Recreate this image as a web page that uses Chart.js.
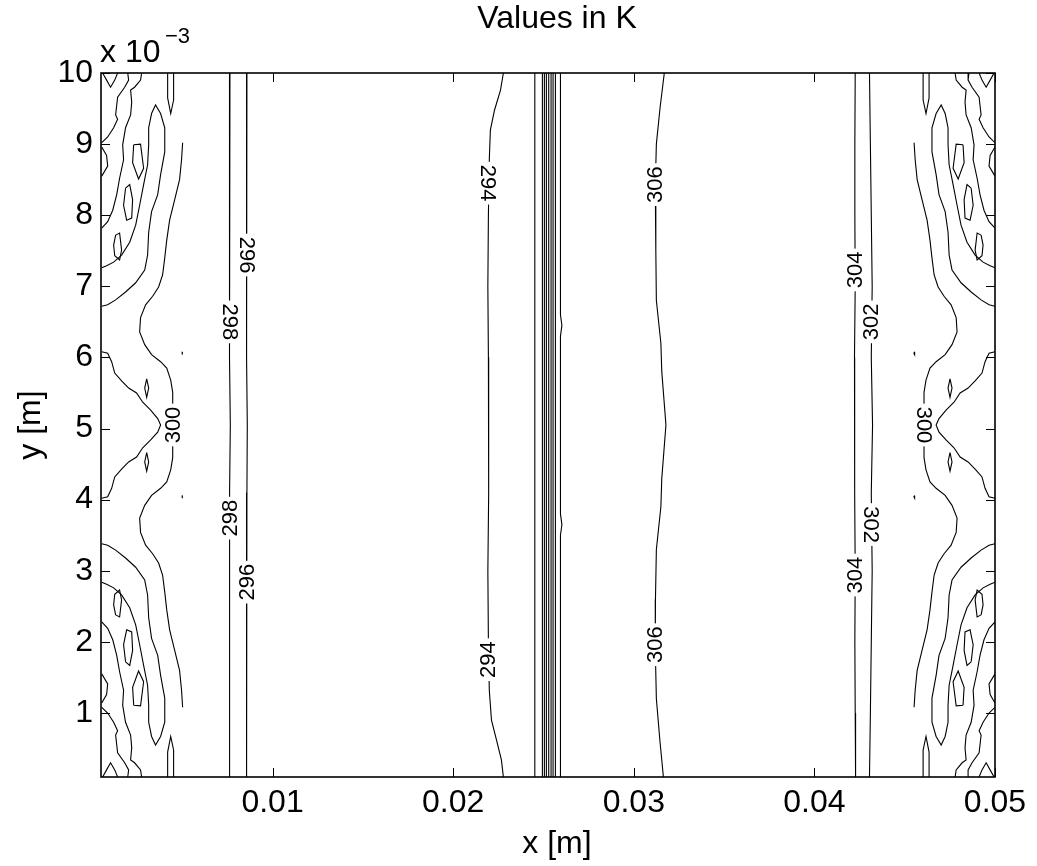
<!DOCTYPE html>
<html lang="en">
<head>
<meta charset="UTF-8">
<title>Values in K</title>
<script src="https://cdn.jsdelivr.net/npm/chart.js"></script>
<style>
  body { margin: 0; background: #fff; }
</style>
</head>
<body>
<canvas id="myChart" width="1037" height="866"></canvas>
<script>
// x in mm (shown as metres), y in units of 1e-3 m
const xTicks = [10, 20, 30, 40, 50];
const xTickLabels = ['0.01', '0.02', '0.03', '0.04', '0.05'];
const yTicks = [1, 2, 3, 4, 5, 6, 7, 8, 9, 10];
const yTickLabels = ['1', '2', '3', '4', '5', '6', '7', '8', '9', '10'];

// main contour lines [x, y]
const line298 = [[7.64,10.0],[7.62,9.0],[7.60,8.0],[7.62,7.2],[7.62,6.0],[7.66,5.05],[7.62,4.1],[7.62,3.0],[7.60,2.0],[7.62,1.0],[7.64,0.1]];
const line296 = [[8.58,10.0],[8.56,9.0],[8.54,8.0],[8.56,7.0],[8.58,6.0],[8.60,5.05],[8.58,4.1],[8.56,3.1],[8.54,2.0],[8.56,1.0],[8.58,0.1]];
const line294 = [[22.78,10.0],[22.62,9.76],[22.29,9.48],[22.06,9.20],[22.00,8.78],[21.95,8.0],[21.92,7.0],[21.95,6.0],[21.98,5.05],[21.95,4.1],[21.92,3.0],[21.95,2.0],[22.00,1.32],[22.12,0.90],[22.40,0.62],[22.67,0.34],[22.78,0.1]];
const front1 = [[24.52,10.0],[24.52,0.1]];
const front2 = [[24.94,10.0],[24.94,0.1]];
const front3 = [[25.05,10.0],[25.05,0.1]];
const front4 = [[25.16,10.0],[25.16,0.1]];
const front5 = [[25.29,10.0],[25.29,0.1]];
const front6 = [[25.42,10.0],[25.42,0.1]];
const front7 = [[25.53,10.0],[25.53,0.1]];
const front8 = [[25.66,10.0],[25.66,0.1]];
const front9 = [[25.94,10.0],[25.94,6.6],[26.02,6.45],[25.94,6.3],[25.94,3.8],[26.02,3.65],[25.94,3.5],[25.94,0.1]];
const line306 = [[31.69,10.0],[31.45,9.5],[31.25,9.0],[31.19,8.4],[31.22,7.5],[31.25,6.8],[31.50,6.2],[31.55,5.8],[31.78,5.05],[31.55,4.3],[31.50,3.9],[31.25,3.3],[31.20,2.6],[31.19,1.9],[31.25,1.2],[31.45,0.6],[31.64,0.1]];
const line304 = [[42.26,10.0],[42.24,9.0],[42.24,8.0],[42.26,7.0],[42.22,6.0],[42.24,5.05],[42.22,4.1],[42.26,3.0],[42.24,2.0],[42.26,1.0],[42.28,0.1]];
const line302 = [[43.05,10.0],[43.10,9.0],[43.15,8.0],[43.20,7.0],[43.15,6.0],[43.22,5.05],[43.15,4.1],[43.20,3.0],[43.15,2.0],[43.10,1.0],[43.05,0.1]];

// ragged contours near the left wall
const leftTop = [
  [[0.59,10.0],[0.81,9.90],[1.03,9.80],[1.26,9.90],[1.42,10.0]],
  [[1.98,10.0],[2.03,9.90],[1.81,9.80],[1.42,9.66],[1.31,9.41],[1.42,9.35],[1.20,9.23],[0.87,9.10],[0.54,9.02]],
  [[0.54,8.96],[0.81,8.84],[0.87,8.69],[0.54,8.55]],
  [[2.75,10.0],[2.69,9.90],[2.36,9.80],[2.14,9.76],[2.20,9.59],[2.14,9.41],[1.86,9.23],[1.70,8.99],[1.75,8.78],[1.53,8.52],[1.37,8.29],[1.15,8.07],[0.87,7.91],[0.54,7.82]],
  [[4.19,10.0],[4.19,9.65],[4.36,9.43],[4.52,9.62],[4.52,10.0]],
  [[2.31,8.99],[2.69,9.00],[2.86,8.66],[2.58,8.51],[2.25,8.74],[2.31,8.99]],
  [[1.86,8.38],[2.09,8.43],[2.25,8.22],[2.20,7.96],[1.92,7.93],[1.75,8.14],[1.86,8.38]],
  [[1.31,7.72],[1.53,7.75],[1.64,7.51],[1.53,7.37],[1.26,7.43],[1.20,7.58],[1.31,7.72]],
  [[0.54,7.26],[0.81,7.29],[1.20,7.34],[1.64,7.44],[2.09,7.62],[2.42,7.86],[2.64,8.14],[2.86,8.43],[3.08,8.71],[3.14,8.99],[3.14,9.23],[3.30,9.43],[3.52,9.55],[3.80,9.43],[4.03,9.23],[4.03,8.89],[3.80,8.57],[3.64,8.29],[3.30,8.05],[3.14,7.76],[3.08,7.44],[2.92,7.23],[2.42,7.05],[1.86,6.92],[1.31,6.81],[0.87,6.74],[0.54,6.72]]
];
const leftBottom = [
  [[0.59,0.1],[0.81,0.20],[1.03,0.30],[1.26,0.20],[1.42,0.1]],
  [[1.98,0.1],[2.03,0.20],[1.81,0.30],[1.42,0.44],[1.31,0.69],[1.42,0.75],[1.20,0.87],[0.87,1.00],[0.54,1.08]],
  [[0.54,1.14],[0.81,1.26],[0.87,1.41],[0.54,1.55]],
  [[2.75,0.1],[2.69,0.20],[2.36,0.30],[2.14,0.34],[2.20,0.51],[2.14,0.69],[1.86,0.87],[1.70,1.11],[1.75,1.32],[1.53,1.58],[1.37,1.81],[1.15,2.03],[0.87,2.19],[0.54,2.28]],
  [[4.19,0.1],[4.19,0.45],[4.36,0.67],[4.52,0.48],[4.52,0.1]],
  [[2.31,1.11],[2.69,1.10],[2.86,1.44],[2.58,1.59],[2.25,1.36],[2.31,1.11]],
  [[1.86,1.72],[2.09,1.67],[2.25,1.88],[2.20,2.14],[1.92,2.17],[1.75,1.96],[1.86,1.72]],
  [[1.31,2.38],[1.53,2.35],[1.64,2.59],[1.53,2.73],[1.26,2.67],[1.20,2.52],[1.31,2.38]],
  [[0.54,2.84],[0.81,2.81],[1.20,2.76],[1.64,2.66],[2.09,2.48],[2.42,2.24],[2.64,1.96],[2.86,1.67],[3.08,1.39],[3.14,1.11],[3.14,0.87],[3.30,0.67],[3.52,0.55],[3.80,0.67],[4.03,0.87],[4.03,1.21],[3.80,1.53],[3.64,1.81],[3.30,2.05],[3.14,2.34],[3.08,2.66],[2.92,2.87],[2.42,3.05],[1.86,3.18],[1.31,3.29],[0.87,3.36],[0.54,3.38]]
];
const leftMiddle = [
  [[5.02,9.02],[4.96,8.78],[4.85,8.50],[4.58,8.22],[4.30,7.93],[4.14,7.65],[4.03,7.40],[3.91,7.16],[3.69,6.99],[3.36,6.86],[2.97,6.74],[2.69,6.56],[2.64,6.36],[2.92,6.18],[3.30,6.04],[3.80,5.94],[4.14,5.85],[4.36,5.68],[4.47,5.51],[4.47,5.30],[4.47,5.05],[4.47,4.80],[4.47,4.59],[4.36,4.42],[4.14,4.25],[3.80,4.16],[3.30,4.06],[2.92,3.92],[2.64,3.74],[2.69,3.54],[2.97,3.36],[3.36,3.24],[3.69,3.11],[3.91,2.94],[4.03,2.70],[4.14,2.45],[4.30,2.17],[4.58,1.88],[4.85,1.60],[4.96,1.32],[5.02,1.08]],
  [[0.54,6.08],[0.87,6.06],[1.09,5.94],[1.26,5.78],[1.64,5.67],[2.03,5.57],[2.47,5.50],[2.81,5.37],[3.25,5.26],[3.64,5.14],[3.80,5.05],[3.64,4.95],[3.25,4.84],[2.81,4.73],[2.47,4.60],[2.03,4.53],[1.64,4.43],[1.26,4.32],[1.09,4.16],[0.87,4.04],[0.54,4.02]],
  [[3.03,5.70],[3.14,5.57],[3.03,5.44],[2.92,5.57],[3.03,5.70]],
  [[3.03,4.66],[3.14,4.53],[3.03,4.40],[2.92,4.53],[3.03,4.66]],
  [[4.99,6.08],[5.03,6.06],[4.99,6.04],[4.99,6.08]],
  [[4.99,4.06],[5.03,4.04],[4.99,4.02],[4.99,4.06]]
];

// ragged contours near the right wall
const rightTop = [
  [[49.95,10.0],[49.73,9.90],[49.51,9.80],[49.28,9.90],[49.12,10.0]],
  [[48.56,10.0],[48.51,9.90],[48.73,9.80],[49.12,9.66],[49.23,9.41],[49.12,9.35],[49.34,9.23],[49.67,9.10],[50.00,9.02]],
  [[50.00,8.96],[49.73,8.84],[49.67,8.69],[50.00,8.55]],
  [[47.79,10.0],[47.85,9.90],[48.18,9.80],[48.40,9.76],[48.34,9.59],[48.40,9.41],[48.68,9.23],[48.84,8.99],[48.79,8.78],[49.01,8.52],[49.17,8.29],[49.39,8.07],[49.67,7.91],[50.00,7.82]],
  [[46.35,10.0],[46.35,9.65],[46.18,9.43],[46.02,9.62],[46.02,10.0]],
  [[48.23,8.99],[47.85,9.00],[47.68,8.66],[47.96,8.51],[48.29,8.74],[48.23,8.99]],
  [[48.68,8.38],[48.45,8.43],[48.29,8.22],[48.34,7.96],[48.62,7.93],[48.79,8.14],[48.68,8.38]],
  [[49.23,7.72],[49.01,7.75],[48.90,7.51],[49.01,7.37],[49.28,7.43],[49.34,7.58],[49.23,7.72]],
  [[50.00,7.26],[49.73,7.29],[49.34,7.34],[48.90,7.44],[48.45,7.62],[48.12,7.86],[47.90,8.14],[47.68,8.43],[47.46,8.71],[47.40,8.99],[47.40,9.23],[47.24,9.43],[47.02,9.55],[46.74,9.43],[46.51,9.23],[46.51,8.89],[46.74,8.57],[46.90,8.29],[47.24,8.05],[47.40,7.76],[47.46,7.44],[47.62,7.23],[48.12,7.05],[48.68,6.92],[49.23,6.81],[49.67,6.74],[50.00,6.72]]
];
const rightBottom = [
  [[49.95,0.1],[49.73,0.20],[49.51,0.30],[49.28,0.20],[49.12,0.1]],
  [[48.56,0.1],[48.51,0.20],[48.73,0.30],[49.12,0.44],[49.23,0.69],[49.12,0.75],[49.34,0.87],[49.67,1.00],[50.00,1.08]],
  [[50.00,1.14],[49.73,1.26],[49.67,1.41],[50.00,1.55]],
  [[47.79,0.1],[47.85,0.20],[48.18,0.30],[48.40,0.34],[48.34,0.51],[48.40,0.69],[48.68,0.87],[48.84,1.11],[48.79,1.32],[49.01,1.58],[49.17,1.81],[49.39,2.03],[49.67,2.19],[50.00,2.28]],
  [[46.35,0.1],[46.35,0.45],[46.18,0.67],[46.02,0.48],[46.02,0.1]],
  [[48.23,1.11],[47.85,1.10],[47.68,1.44],[47.96,1.59],[48.29,1.36],[48.23,1.11]],
  [[48.68,1.72],[48.45,1.67],[48.29,1.88],[48.34,2.14],[48.62,2.17],[48.79,1.96],[48.68,1.72]],
  [[49.23,2.38],[49.01,2.35],[48.90,2.59],[49.01,2.73],[49.28,2.67],[49.34,2.52],[49.23,2.38]],
  [[50.00,2.84],[49.73,2.81],[49.34,2.76],[48.90,2.66],[48.45,2.48],[48.12,2.24],[47.90,1.96],[47.68,1.67],[47.46,1.39],[47.40,1.11],[47.40,0.87],[47.24,0.67],[47.02,0.55],[46.74,0.67],[46.51,0.87],[46.51,1.21],[46.74,1.53],[46.90,1.81],[47.24,2.05],[47.40,2.34],[47.46,2.66],[47.62,2.87],[48.12,3.05],[48.68,3.18],[49.23,3.29],[49.67,3.36],[50.00,3.38]]
];
const rightMiddle = [
  [[45.52,9.02],[45.58,8.78],[45.69,8.50],[45.96,8.22],[46.24,7.93],[46.40,7.65],[46.51,7.40],[46.63,7.16],[46.85,6.99],[47.18,6.86],[47.57,6.74],[47.85,6.56],[47.90,6.36],[47.62,6.18],[47.24,6.04],[46.74,5.94],[46.40,5.85],[46.18,5.68],[46.07,5.51],[46.07,5.30],[46.07,5.05],[46.07,4.80],[46.07,4.59],[46.18,4.42],[46.40,4.25],[46.74,4.16],[47.24,4.06],[47.62,3.92],[47.90,3.74],[47.85,3.54],[47.57,3.36],[47.18,3.24],[46.85,3.11],[46.63,2.94],[46.51,2.70],[46.40,2.45],[46.24,2.17],[45.96,1.88],[45.69,1.60],[45.58,1.32],[45.52,1.08]],
  [[50.00,6.08],[49.67,6.06],[49.45,5.94],[49.28,5.78],[48.90,5.67],[48.51,5.57],[48.07,5.50],[47.73,5.37],[47.29,5.26],[46.90,5.14],[46.74,5.05],[46.90,4.95],[47.29,4.84],[47.73,4.73],[48.07,4.60],[48.51,4.53],[48.90,4.43],[49.28,4.32],[49.45,4.16],[49.67,4.04],[50.00,4.02]],
  [[47.51,5.70],[47.40,5.57],[47.51,5.44],[47.62,5.57],[47.51,5.70]],
  [[47.51,4.66],[47.40,4.53],[47.51,4.40],[47.62,4.53],[47.51,4.66]],
  [[45.55,6.08],[45.51,6.06],[45.55,6.04],[45.55,6.08]],
  [[45.55,4.06],[45.51,4.04],[45.55,4.02],[45.55,4.06]]
];

// inline contour labels: text, x, y, reading direction (1 = top to bottom, -1 = bottom to top)
const levelLabels = [
  ['296', 8.56, 7.44, 1], ['296', 8.56, 2.84, -1],
  ['298', 7.62, 6.50, 1], ['298', 7.62, 3.74, -1],
  ['294', 21.95, 8.45, 1], ['294', 21.95, 1.75, -1],
  ['306', 31.19, 8.43, -1], ['306', 31.19, 1.96, -1],
  ['304', 42.26, 7.23, -1], ['304', 42.26, 2.94, -1],
  ['302', 43.12, 6.50, -1], ['302', 43.15, 3.65, 1],
  ['300', 4.47, 5.05, -1], ['300', 46.07, 5.05, 1]
];

const allLines = [line298, line296, line294, front1, front2, front3, front4, front5, front6, front7, front8, front9, line306, line304, line302]
  .concat(leftTop, leftBottom, leftMiddle, rightTop, rightBottom, rightMiddle);

const fontFam = "'Liberation Sans', Arial, Helvetica, sans-serif";

const framePlugin = {
  id: 'frame',
  afterDatasetsDraw(chart) {
    const c = chart.ctx;
    const xs = chart.scales.x, ys = chart.scales.y;
    c.save();
    c.font = '22px ' + fontFam;
    c.textAlign = 'center';
    c.textBaseline = 'middle';
    levelLabels.forEach(function (l) {
      const px = xs.getPixelForValue(l[1]);
      const py = ys.getPixelForValue(l[2]);
      const w = c.measureText(l[0]).width;
      c.save();
      c.translate(px, py);
      c.rotate(l[3] * Math.PI / 2);
      c.fillStyle = '#fff';
      c.fillRect(-w / 2 - 3, -8, w + 6, 16);
      c.fillStyle = '#000';
      c.fillText(l[0], 0, 1);
      c.restore();
    });
    c.restore();
  },
  afterDraw(chart) {
    const c = chart.ctx;
    const a = chart.chartArea;
    const xs = chart.scales.x, ys = chart.scales.y;
    c.save();
    c.strokeStyle = '#000';
    c.lineWidth = 1.6;
    c.strokeRect(a.left, a.top, a.right - a.left, a.bottom - a.top);
    c.lineWidth = 1;
    c.beginPath();
    xTicks.forEach(function (v) {
      const px = Math.round(xs.getPixelForValue(v)) + 0.5;
      c.moveTo(px, a.bottom); c.lineTo(px, a.bottom - 9);
      c.moveTo(px, a.top); c.lineTo(px, a.top + 9);
    });
    yTicks.forEach(function (v) {
      const py = Math.round(ys.getPixelForValue(v)) + 0.5;
      c.moveTo(a.left, py); c.lineTo(a.left + 9, py);
      c.moveTo(a.right, py); c.lineTo(a.right - 9, py);
    });
    c.stroke();

    c.fillStyle = '#000';
    c.font = '32px ' + fontFam;
    c.textAlign = 'center';
    c.textBaseline = 'alphabetic';
    c.fillText('Values in K', 557, 28);
    c.fillText('x [m]', 557, 853);

    c.save();
    c.translate(40, (a.top + a.bottom) / 2);
    c.rotate(-Math.PI / 2);
    c.fillText('y [m]', 0, 0);
    c.restore();

    c.textAlign = 'left';
    c.fillText('x 10', a.left - 1, 62);
    c.font = '22px ' + fontFam;
    c.fillText('\u22123', a.left + 64, 43);
    c.restore();
  }
};

const ctx = document.getElementById('myChart');

new Chart(ctx, {
  type: 'scatter',
  data: {
    datasets: allLines.map(function (pts) {
      return {
        data: pts.map(function (p) { return { x: p[0], y: p[1] }; }),
        showLine: true,
        borderColor: '#000',
        borderWidth: 1.1,
        pointRadius: 0,
        fill: false,
        tension: 0
      };
    })
  },
  options: {
    responsive: false,
    animation: false,
    devicePixelRatio: 1,
    layout: { padding: { top: 73, right: 42, left: 0, bottom: 0 } },
    plugins: {
      legend: { display: false },
      tooltip: { enabled: false },
      title: { display: false }
    },
    scales: {
      x: {
        type: 'linear',
        min: 0.5,
        max: 50,
        afterBuildTicks: function (s) { s.ticks = xTicks.map(function (v) { return { value: v }; }); },
        afterFit: function (s) { s.height = 89; },
        grid: { display: false, drawTicks: false },
        border: { display: false },
        ticks: {
          autoSkip: false,
          maxRotation: 0,
          padding: 7,
          color: '#000',
          font: { size: 32, family: fontFam },
          callback: function (v, i) { return xTickLabels[i]; }
        }
      },
      y: {
        type: 'linear',
        min: 0.1,
        max: 10,
        afterBuildTicks: function (s) { s.ticks = yTicks.map(function (v) { return { value: v }; }); },
        afterFit: function (s) { s.width = 101; },
        grid: { display: false, drawTicks: false },
        border: { display: false },
        ticks: {
          autoSkip: false,
          padding: 8,
          color: '#000',
          font: { size: 32, family: fontFam },
          callback: function (v, i) { return yTickLabels[i]; }
        }
      }
    }
  },
  plugins: [framePlugin]
});
</script>
</body>
</html>
